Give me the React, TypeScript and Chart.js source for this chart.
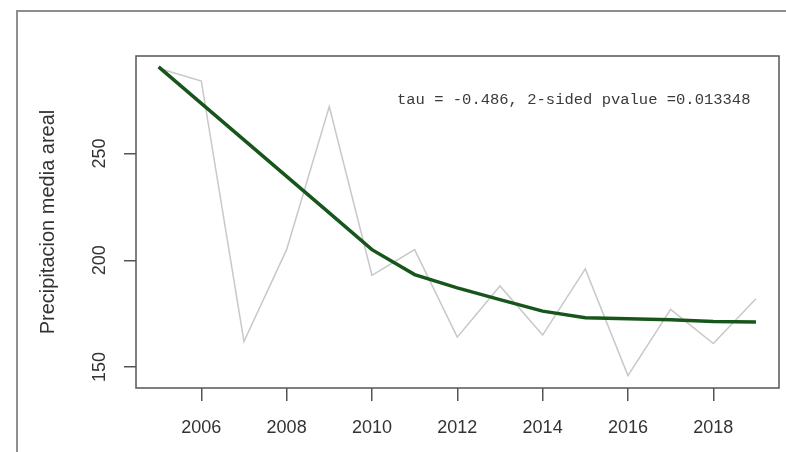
import React, { useEffect, useRef } from "react";
import { Chart, registerables } from "chart.js";

Chart.register(...registerables);

const years = [2005, 2006, 2007, 2008, 2009, 2010, 2011, 2012, 2013, 2014, 2015, 2016, 2017, 2018, 2019];
const precipitation = [290, 284, 162, 205, 272, 193, 205, 164, 188, 165, 196, 146, 177, 161, 182];
const trend = [290.6, 273.5, 256.4, 239.3, 222.2, 205, 193.3, 187.1, 181.6, 176.2, 173.1, 172.6, 172.2, 171.4, 171.1];
const xTicks = [2006, 2008, 2010, 2012, 2014, 2016, 2018];
const yTicks = [150, 200, 250];
const yTitle = "Precipitacion media areal";
const annotation = "tau = -0.486, 2-sided pvalue =0.013348";

const SANS = "'Liberation Sans', Arial, sans-serif";

export default function App() {
  const ref = useRef<HTMLCanvasElement>(null);

  useEffect(() => {
    if (!ref.current) return;

    const decor = {
      id: "decor",
      beforeDraw(chart: any) {
        const ctx = chart.ctx;
        ctx.save();
        ctx.fillStyle = "#ffffff";
        ctx.fillRect(0, 0, chart.width, chart.height);
        ctx.strokeStyle = "#8f8f8f";
        ctx.lineWidth = 2;
        ctx.beginPath();
        ctx.moveTo(17, chart.height + 2);
        ctx.lineTo(17, 11);
        ctx.lineTo(chart.width + 2, 11);
        ctx.stroke();
        ctx.restore();
      },
      afterDraw(chart: any) {
        const ctx = chart.ctx;
        const a = chart.chartArea;
        ctx.save();
        ctx.strokeStyle = "#555555";
        ctx.lineWidth = 1.5;
        ctx.strokeRect(a.left, a.top, a.right - a.left, a.bottom - a.top);

        const ys = chart.scales.y;
        ctx.fillStyle = "#333333";
        ctx.font = `18px ${SANS}`;
        ctx.textAlign = "center";
        ctx.textBaseline = "middle";
        yTicks.forEach((v) => {
          const py = ys.getPixelForValue(v);
          ctx.save();
          ctx.translate(100, py);
          ctx.rotate(-Math.PI / 2);
          ctx.fillText(String(v), 0, 0);
          ctx.restore();
        });

        ctx.font = "15.5px 'Liberation Mono', 'Courier New', monospace";
        ctx.fillStyle = "#3a3a3a";
        ctx.textAlign = "left";
        ctx.fillText(annotation, 397, 100);
        ctx.restore();
      },
    };

    const chart = new Chart(ref.current, {
      type: "line",
      data: {
        datasets: [
          {
            label: "Tendencia",
            data: years.map((x, i) => ({ x, y: trend[i] })),
            borderColor: "#17561b",
            borderWidth: 3.5,
            pointRadius: 0,
            tension: 0,
            fill: false,
          },
          {
            label: "Precipitacion",
            data: years.map((x, i) => ({ x, y: precipitation[i] })),
            borderColor: "#c8c8c8",
            borderWidth: 1.5,
            pointRadius: 0,
            tension: 0,
            fill: false,
          },
        ],
      },
      options: {
        responsive: false,
        animation: false,
        events: [],
        layout: { padding: { top: 56, right: 7, bottom: 0, left: 0 } },
        plugins: { legend: { display: false }, tooltip: { enabled: false } },
        scales: {
          x: {
            type: "linear",
            min: 2004.47,
            max: 2019.54,
            afterBuildTicks: (s: any) => {
              s.ticks = xTicks.map((value) => ({ value }));
            },
            afterFit: (s: any) => {
              s.height = 64;
            },
            grid: { drawOnChartArea: false, drawTicks: true, tickLength: 13, color: "#555555", lineWidth: 1.5 },
            border: { display: false },
            ticks: {
              padding: 16,
              color: "#333333",
              font: { family: SANS, size: 18 },
              maxRotation: 0,
              autoSkip: false,
              callback: (v: any) => String(v),
            },
          },
          y: {
            type: "linear",
            min: 140.2,
            max: 295.7,
            afterBuildTicks: (s: any) => {
              s.ticks = yTicks.map((value) => ({ value }));
            },
            afterFit: (s: any) => {
              s.width = 136;
            },
            grid: { drawOnChartArea: false, drawTicks: true, tickLength: 12, color: "#555555", lineWidth: 1.5 },
            border: { display: false },
            ticks: { display: false },
            title: {
              display: true,
              text: yTitle,
              color: "#333333",
              font: { family: SANS, size: 20 },
              padding: { top: 36, bottom: 0 },
            },
          },
        },
      },
      plugins: [decor],
    });

    return () => chart.destroy();
  }, []);

  return (
    <div style={{ position: "absolute", left: 0, top: 0, width: 786, height: 452, background: "#fff" }}>
      <canvas ref={ref} width={786} height={452} style={{ width: 786, height: 452, display: "block" }} />
    </div>
  );
}
